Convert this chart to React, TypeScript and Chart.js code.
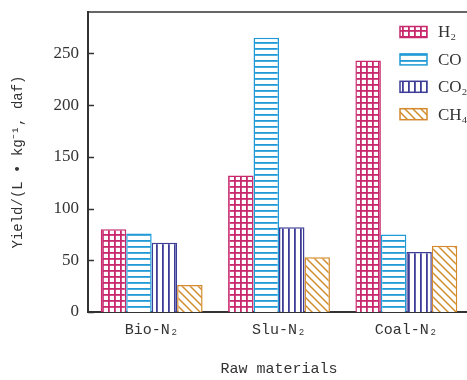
import React, { useEffect, useRef } from "react";
import { Chart, registerables } from "chart.js";

Chart.register(...registerables);

const categories = ["Bio-N₂", "Slu-N₂", "Coal-N₂"];
const seriesNames = ["H₂", "CO", "CO₂", "CH₄"];
const h2Values = [80, 132, 243];
const coValues = [76, 265, 75];
const co2Values = [67, 82, 58];
const ch4Values = [26, 53, 64];
const yTickValues = [0, 50, 100, 150, 200, 250];
const seriesColors = ["#c8296d", "#1f9ad6", "#3d3d97", "#d48a2c"];
const patternKinds = ["grid", "horizontal", "vertical", "diagonal"];
const xTitle = "Raw materials";
const yTitle = "Yield/(L • kg⁻¹, daf)";

const AXIS = "#333333";

function makePattern(kind: string, color: string): CanvasPattern | string {
  const s = kind === "diagonal" ? 8 : 6;
  const c = document.createElement("canvas");
  c.width = s;
  c.height = s;
  const g = c.getContext("2d");
  if (!g) return "#fff";
  g.fillStyle = "#ffffff";
  g.fillRect(0, 0, s, s);
  g.fillStyle = color;
  g.strokeStyle = color;
  const lw = 1.8;
  if (kind === "grid") {
    g.fillRect(0, 0, s, lw);
    g.fillRect(0, 0, lw, s);
  } else if (kind === "horizontal") {
    g.fillRect(0, 0, s, lw);
  } else if (kind === "vertical") {
    g.fillRect(0, 0, lw, s);
  } else {
    g.lineWidth = 1.5;
    for (const k of [-s, 0, s]) {
      g.beginPath();
      g.moveTo(-1, k - 1);
      g.lineTo(s + 1, s + k + 1);
      g.stroke();
    }
  }
  const p = g.createPattern(c, "repeat");
  return p || "#fff";
}

export default function App() {
  const ref = useRef<HTMLCanvasElement | null>(null);

  useEffect(() => {
    const canvas = ref.current;
    if (!canvas) return;
    const patterns = patternKinds.map((k, i) => makePattern(k, seriesColors[i]));
    const values = [h2Values, coValues, co2Values, ch4Values];

    const framePlugin = {
      id: "frameAndLegend",
      afterDraw(chart: any) {
        const { ctx, chartArea } = chart;
        const y = chart.scales.y;
        ctx.save();
        ctx.strokeStyle = AXIS;
        ctx.lineWidth = 1.5;
        ctx.beginPath();
        ctx.moveTo(chartArea.left, chartArea.top);
        ctx.lineTo(chart.width, chartArea.top);
        ctx.stroke();
        for (const v of yTickValues) {
          const py = Math.round(y.getPixelForValue(v)) + 0.5;
          ctx.beginPath();
          ctx.moveTo(chartArea.left, py);
          ctx.lineTo(chartArea.left + 6, py);
          ctx.stroke();
        }
        const bx = chartArea.right - 70;
        const bw = 27;
        const bh = 11;
        ctx.font = "17px 'Liberation Serif'";
        ctx.textBaseline = "middle";
        ctx.textAlign = "left";
        seriesNames.forEach((name, i) => {
          const cy = chartArea.top + 20 + i * 27.4;
          ctx.fillStyle = patterns[i] as any;
          ctx.fillRect(bx, cy - bh / 2, bw, bh);
          ctx.strokeStyle = seriesColors[i];
          ctx.lineWidth = 1.5;
          ctx.strokeRect(bx, cy - bh / 2, bw, bh);
          ctx.fillStyle = AXIS;
          ctx.fillText(name, bx + 38, cy + 1);
        });
        ctx.restore();
      },
    };

    const chart = new Chart(canvas, {
      type: "bar",
      data: {
        labels: categories,
        datasets: seriesNames.map((name, i) => ({
          label: name,
          data: values[i],
          backgroundColor: patterns[i] as any,
          borderColor: seriesColors[i],
          borderWidth: 1.5,
          categoryPercentage: 0.8,
          barPercentage: 1,
        })),
      },
      options: {
        responsive: false,
        animation: false,
        devicePixelRatio: 1,
        layout: { padding: { left: 0, top: 12, right: 10, bottom: 0 } },
        plugins: {
          legend: { display: false },
          tooltip: { enabled: false },
        },
        scales: {
          x: {
            grid: { display: false, drawTicks: false },
            border: { display: true, color: AXIS, width: 2 },
            ticks: {
              font: { family: "'Liberation Mono'", size: 15 },
              color: AXIS,
              padding: 9,
            },
            title: {
              display: true,
              text: xTitle,
              font: { family: "'Liberation Mono'", size: 15 },
              color: AXIS,
              padding: { top: 0, bottom: 2 },
            },
            afterFit: (s: any) => {
              s.height = 68;
              s.paddingLeft = 0;
              s.paddingRight = 0;
            },
          },
          y: {
            min: 0,
            max: 290,
            grid: { display: false, drawTicks: false },
            border: { display: true, color: AXIS, width: 2 },
            ticks: {
              stepSize: 50,
              includeBounds: false,
              font: { family: "'Liberation Serif'", size: 17 },
              color: AXIS,
              padding: 9,
            },
            title: {
              display: true,
              text: yTitle,
              font: { family: "'Liberation Mono'", size: 14 },
              color: AXIS,
              padding: { top: 10, bottom: 0 },
            },
            afterFit: (s: any) => {
              s.width = 88;
              s.paddingTop = 0;
              s.paddingBottom = 0;
            },
          },
        },
      },
      plugins: [framePlugin],
    } as any);
    return () => chart.destroy();
  }, []);

  return (
    <div
      style={{
        position: "fixed",
        left: 0,
        top: 0,
        width: 467,
        height: 380,
        overflow: "hidden",
        background: "#fff",
      }}
    >
      <canvas ref={ref} width={480} height={380} style={{ display: "block", width: 480, height: 380 }} />
    </div>
  );
}
